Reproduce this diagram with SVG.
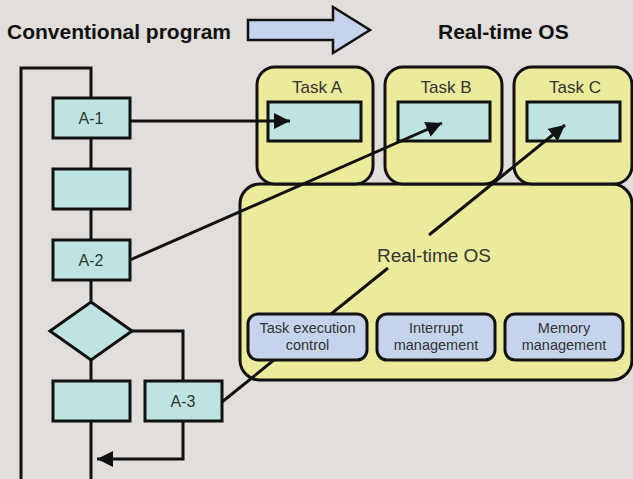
<svg xmlns="http://www.w3.org/2000/svg" width="633" height="479" viewBox="0 0 633 479">
<style>
.t{font-family:"Liberation Sans",Arial,sans-serif;fill:#333}
.h{font-family:"Liberation Sans",Arial,sans-serif;font-weight:bold;font-size:21px;fill:#111}
.fc{fill:#bde4e0;stroke:#111;stroke-width:3}
.tk{fill:#ebeb9b;stroke:#111;stroke-width:3}
.sb{fill:#c5d4ec;stroke:#111;stroke-width:3}
.ln{fill:none;stroke:#111;stroke-width:3}
</style>
<defs>
<marker id="ah" markerUnits="userSpaceOnUse" markerWidth="18" markerHeight="16" refX="16" refY="8" orient="auto"><path d="M0,0 L16,8 L0,16 Z" fill="#111"/></marker>
</defs>
<rect width="633" height="479" fill="#e2dedb"/>
<g id="title">
<text class="h" x="7" y="39">Conventional program</text>
<path d="M248,20 H333 V7 L370,30 L333,53 V40 H248 Z" fill="#c5d4ec" stroke="#111" stroke-width="2.5"/>
<text class="h" x="438" y="39">Real-time OS</text>
</g>
<g id="os">
<rect class="tk" x="240" y="184" width="392" height="196" rx="20"/>
<text class="t" x="434" y="262" font-size="19" text-anchor="middle">Real-time OS</text>
</g>
<g id="taskA">
<rect class="tk" x="257" y="67" width="116" height="117" rx="18"/>
<text class="t" x="317" y="93" font-size="17" text-anchor="middle">Task A</text>
<rect class="fc" x="268" y="102" width="93" height="39"/>
</g>
<g id="taskB">
<rect class="tk" x="385" y="67" width="117" height="117" rx="18"/>
<text class="t" x="446" y="93" font-size="17" text-anchor="middle">Task B</text>
<rect class="fc" x="398" y="102" width="92" height="39"/>
</g>
<g id="taskC">
<rect class="tk" x="514" y="67" width="118" height="117" rx="18"/>
<text class="t" x="575" y="93" font-size="17" text-anchor="middle">Task C</text>
<rect class="fc" x="527" y="102" width="93" height="39"/>
</g>
<g id="flow-lines">
<path class="ln" d="M91,98 V68 H21 V479"/>
<path class="ln" d="M91,138 V169 M91,209 V240 M91,280 V302 M91,360 V381 M91,421 V479"/>
<path class="ln" d="M132,331 H183 V381"/>
<path class="ln" d="M183,421 V459 H97" marker-end="url(#ah)"/>
</g>
<g id="a1">
<rect class="fc" x="53" y="98" width="77" height="40"/>
<text class="t" x="91" y="124" font-size="16" text-anchor="middle">A-1</text>
</g>
<g id="b2"><rect class="fc" x="53" y="169" width="77" height="40"/></g>
<g id="a2">
<rect class="fc" x="53" y="240" width="77" height="40"/>
<text class="t" x="91" y="266" font-size="16" text-anchor="middle">A-2</text>
</g>
<g id="decision"><path class="fc" d="M91,302 L132,331 L91,360 L50,331 Z"/></g>
<g id="b5"><rect class="fc" x="53" y="381" width="77" height="40"/></g>
<g id="a3">
<rect class="fc" x="145" y="381" width="77" height="40"/>
<text class="t" x="183" y="407" font-size="16" text-anchor="middle">A-3</text>
</g>
<g id="connectors">
<line class="ln" x1="130" y1="121" x2="290" y2="121" marker-end="url(#ah)"/>
<line class="ln" x1="130" y1="260" x2="442" y2="123" marker-end="url(#ah)"/>
<line class="ln" x1="222" y1="402" x2="388" y2="268"/>
<line class="ln" x1="429" y1="235" x2="565" y2="125" marker-end="url(#ah)"/>
</g>
<g id="sub1">
<rect class="sb" x="248" y="314" width="119" height="46" rx="10"/>
<text class="t" x="307.5" y="333" font-size="14.5" text-anchor="middle">Task execution</text>
<text class="t" x="307.5" y="350" font-size="14.5" text-anchor="middle">control</text>
</g>
<g id="sub2">
<rect class="sb" x="377" y="314" width="118" height="46" rx="10"/>
<text class="t" x="436" y="333" font-size="14.5" text-anchor="middle">Interrupt</text>
<text class="t" x="436" y="350" font-size="14.5" text-anchor="middle">management</text>
</g>
<g id="sub3">
<rect class="sb" x="505" y="314" width="118" height="46" rx="10"/>
<text class="t" x="564" y="333" font-size="14.5" text-anchor="middle">Memory</text>
<text class="t" x="564" y="350" font-size="14.5" text-anchor="middle">management</text>
</g>
</svg>
